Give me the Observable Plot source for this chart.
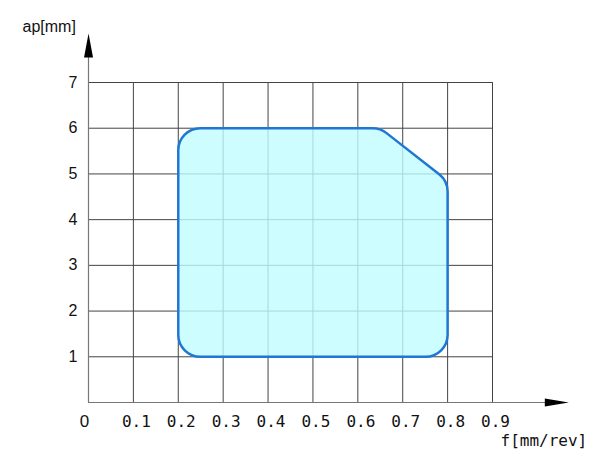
<!DOCTYPE html>
<html>
<head>
<meta charset="utf-8">
<script src="https://cdn.jsdelivr.net/npm/d3@7"></script>
<script src="https://cdn.jsdelivr.net/npm/@observablehq/plot@0.6"></script>
<style>
  html, body { margin: 0; padding: 0; background: #fff; }
</style>
</head>
<body>
<div id="chart"></div>
<script>
// ---- data ----
const xTicks = [0, 0.1, 0.2, 0.3, 0.4, 0.5, 0.6, 0.7, 0.8, 0.9];
const xTickLabels = ["0", "0.1", "0.2", "0.3", "0.4", "0.5", "0.6", "0.7", "0.8", "0.9"];
const yTicks = [1, 2, 3, 4, 5, 6, 7];
const yTickLabels = ["1", "2", "3", "4", "5", "6", "7"];
const regionF = [0.2, 0.2, 0.65, 0.8, 0.8];     // feed f [mm/rev]
const regionAp = [1, 6, 6, 4.85, 1];            // depth of cut ap [mm]
const xAxisTitle = "f[mm/rev]";
const yAxisTitle = "ap[mm]";
const xAxisEnd = 1.07;   // arrow tip on f axis
const yAxisEnd = 8.07;   // arrow tip on ap axis

const region = regionF.map((f, i) => ({f, ap: regionAp[i]}));
const xGrid = xTicks.slice(1);
const xMax = d3.max(xTicks), yMax = d3.max(yTicks);
const xLabelData = xTicks.map((v, i) => ({v, label: xTickLabels[i]}));
const yLabelData = yTicks.map((v, i) => ({v, label: yTickLabels[i]}));

// closed polygon with rounded corners (drawing style only)
function roundedClosed(radius) {
  return (context) => ({
    pts: [],
    areaStart() {}, areaEnd() {},
    lineStart() { this.pts = []; },
    point(x, y) { this.pts.push([+x, +y]); },
    lineEnd() {
      const p = this.pts, n = p.length;
      if (!n) return;
      const m = [(p[n - 1][0] + p[0][0]) / 2, (p[n - 1][1] + p[0][1]) / 2];
      context.moveTo(m[0], m[1]);
      for (let i = 0; i < n; i++) {
        const c = p[i], nx = p[(i + 1) % n];
        context.arcTo(c[0], c[1], nx[0], nx[1], radius);
      }
      context.closePath();
    }
  });
}

const arrowUp = {draw(ctx) { ctx.moveTo(0, 0); ctx.lineTo(4.5, 24); ctx.lineTo(-4.5, 24); ctx.closePath(); }};
const arrowRight = {draw(ctx) { ctx.moveTo(0, 0); ctx.lineTo(-24, 4); ctx.lineTo(-24, -4); ctx.closePath(); }};

const monoFont = "DejaVu Sans Mono, monospace";
const sansFont = "Liberation Sans, Arial, sans-serif";

const chart = Plot.plot({
  width: 600,
  height: 462,
  marginLeft: 88,
  marginRight: 108,
  marginTop: 82,
  marginBottom: 60,
  x: {domain: [0, xMax], axis: null},
  y: {domain: [0, yMax], axis: null},
  style: {background: "#fff", overflow: "visible"},
  marks: [
    // grid
    Plot.ruleX(xGrid, {y1: 0, y2: yMax, stroke: "#444", strokeWidth: 1}),
    Plot.ruleY(yTicks, {x1: 0, x2: xMax, stroke: "#444", strokeWidth: 1}),
    // region
    Plot.line(region, {x: "f", y: "ap", curve: roundedClosed(22), fill: "#c2fcff", fillOpacity: 0.8, stroke: "#1f77d4", strokeWidth: 2.5, clip: false}),
    // axes
    Plot.ruleY([0], {x1: 0, x2: xAxisEnd - 0.02, stroke: "#777", strokeWidth: 1.2, clip: false}),
    Plot.ruleX([0], {y1: 0, y2: yAxisEnd - 0.2, stroke: "#777", strokeWidth: 1.2, clip: false}),
    Plot.dot([0], {x: xAxisEnd, y: 0, symbol: arrowRight, fill: "#000", stroke: null, clip: false}),
    Plot.dot([0], {x: 0, y: yAxisEnd, symbol: arrowUp, fill: "#000", stroke: null, clip: false}),
    // tick labels
    Plot.text(yLabelData, {x: 0, y: "v", text: "label", dx: -11, textAnchor: "end", fontSize: 16, fontFamily: sansFont, fill: "#111"}),
    Plot.text(xLabelData.slice(0, 1), {x: "v", y: 0, text: "label", dx: -4, dy: 19, fontSize: 17, fontFamily: sansFont, fill: "#111"}),
    Plot.text(xLabelData.slice(1), {x: "v", y: 0, text: "label", dx: 3, dy: 19, fontSize: 16, fontFamily: monoFont, fill: "#111"}),
    // axis titles
    Plot.text([yAxisTitle], {x: 0, y: yAxisEnd, text: d => d, dx: -66, dy: -7, textAnchor: "start", fontSize: 16, fontFamily: sansFont, fill: "#111", style: "letter-spacing:0.6px"}),
    Plot.text([xAxisTitle], {x: xMax, y: 0, text: d => d, dx: 8, dy: 38, textAnchor: "start", fontSize: 16, fontFamily: monoFont, fill: "#111"})
  ]
});
document.getElementById("chart").appendChild(chart);
</script>
</body>
</html>
